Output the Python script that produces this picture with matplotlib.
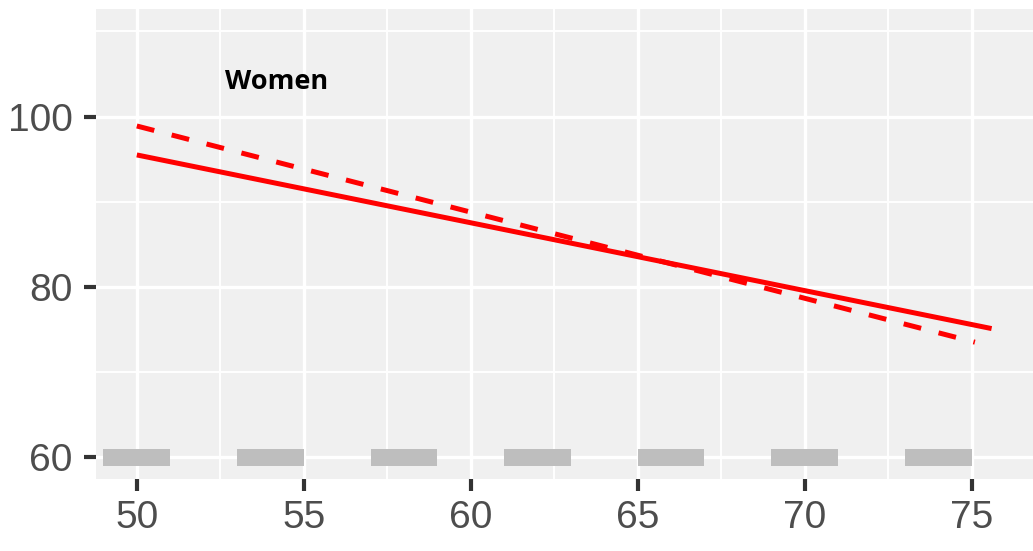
import matplotlib
matplotlib.use("Agg")
import matplotlib.pyplot as plt

# fitted lines (age vs value)
solid_x = [50.0, 75.6]
solid_y = [95.5, 75.1]
dashed_x = [50.0, 75.1]
dashed_y = [98.9, 73.5]

# grey segments along the baseline
seg_start = [49, 53, 57, 61, 65, 69, 73]
seg_width = 2
seg_bottom = 59
seg_height = 2

x_ticks = [50, 55, 60, 65, 70, 75]
x_minor = [52.5, 57.5, 62.5, 67.5, 72.5]
y_ticks = [60, 80, 100]
y_minor = [70, 90, 110]

label_text = "Women"
label_pos = (54.2, 104.1)

TICK_COLOR = "#333333"
LABEL_COLOR = "#4D4D4D"


def main() -> None:
    fig = plt.figure(figsize=(10.33, 5.51), dpi=100)
    ax = fig.add_axes([0.093, 0.131, 0.907, 0.852])
    ax.set_facecolor("#F0F0F0")

    ax.set_xlim(48.78, 76.84)
    ax.set_ylim(57.45, 112.6)

    for v in x_minor:
        ax.axvline(v, color="white", lw=1.4, zorder=0)
    for v in y_minor:
        ax.axhline(v, color="white", lw=1.4, zorder=0)
    for v in x_ticks:
        ax.axvline(v, color="white", lw=2.4, zorder=0)
    for v in y_ticks:
        ax.axhline(v, color="white", lw=2.4, zorder=0)

    ax.bar(seg_start, seg_height, width=seg_width, bottom=seg_bottom,
           align="edge", color="#BEBEBE", zorder=2)

    ax.plot(solid_x, solid_y, color="#FF0000", lw=3.6, solid_capstyle="butt", zorder=3)
    line, = ax.plot(dashed_x, dashed_y, color="#FF0000", lw=3.6, zorder=3)
    line.set_dashes((3.6, 3.6))
    line.set_dash_capstyle("butt")

    ax.text(label_pos[0], label_pos[1], label_text, ha="center", va="center",
            fontsize=19.5, fontweight="bold", family="Open Sans", color="black")

    ax.set_xticks(x_ticks)
    ax.set_yticks(y_ticks)
    ax.tick_params(axis="both", length=8.5, width=3, color=TICK_COLOR,
                   labelcolor=LABEL_COLOR, labelsize=28)
    ax.tick_params(axis="x", pad=7)
    ax.tick_params(axis="y", pad=8.5)
    for lab in ax.get_xticklabels() + ax.get_yticklabels():
        lab.set_family("Liberation Sans")

    for spine in ax.spines.values():
        spine.set_visible(False)

    fig.savefig("out.png", dpi=100)
    plt.close(fig)


if __name__ == "__main__":
    main()
